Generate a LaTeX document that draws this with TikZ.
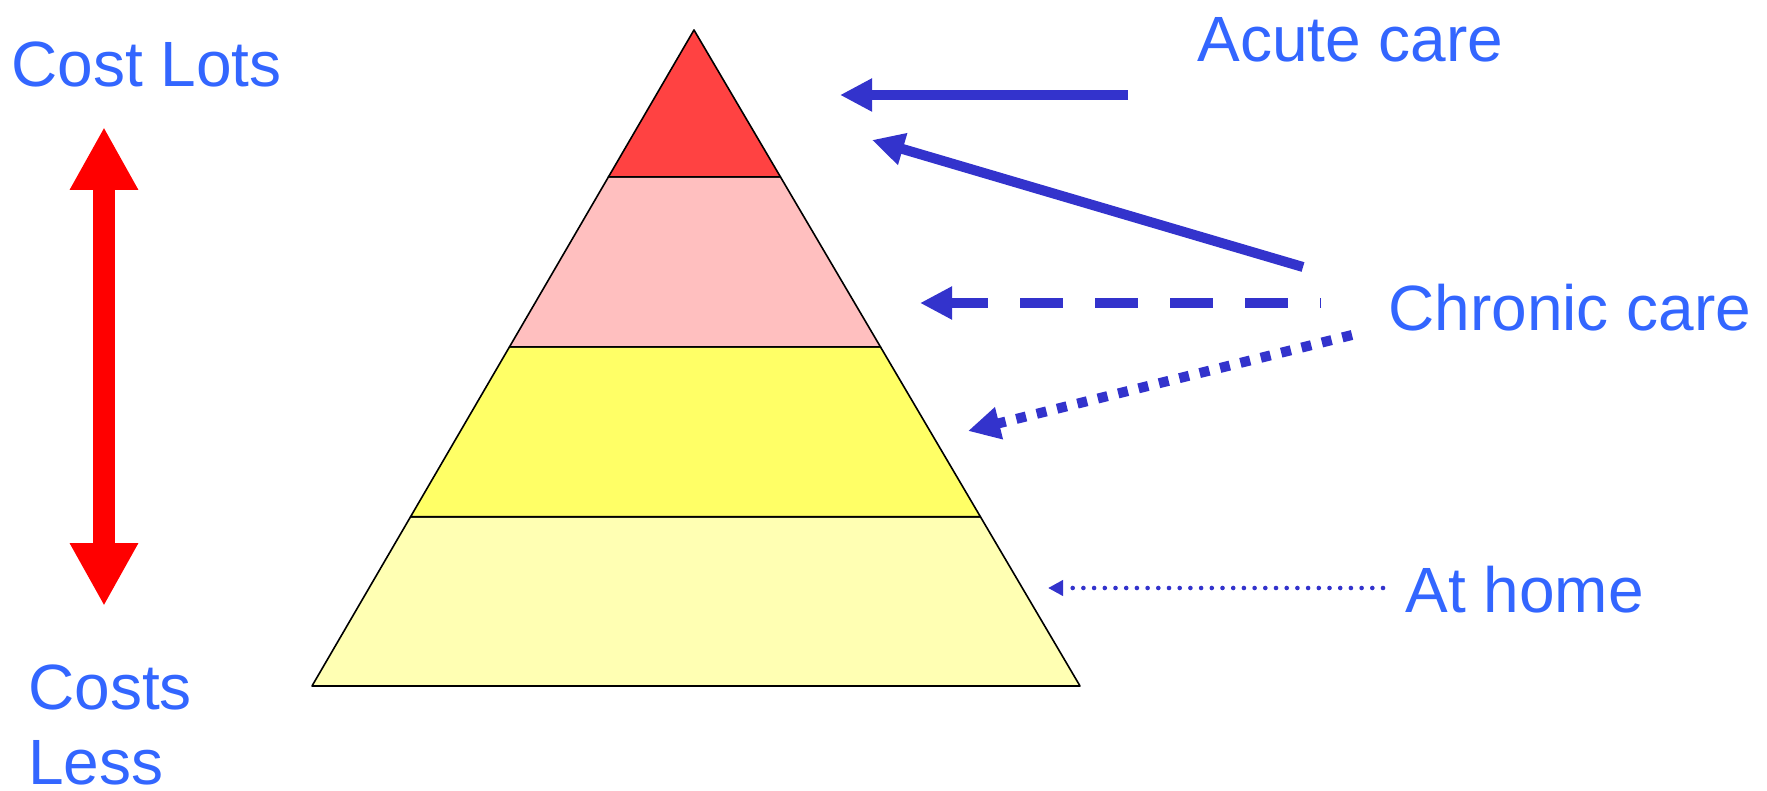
\documentclass[tikz,border=0pt]{standalone}
\usepackage{fontspec}
\setmainfont{Liberation Sans}
\usetikzlibrary{arrows.meta,calc}
\definecolor{careblue}{HTML}{3333CC}
\definecolor{labelblue}{HTML}{3366FF}
\definecolor{topred}{HTML}{FF4242}
\definecolor{softpink}{HTML}{FFBFBF}
\definecolor{midyellow}{HTML}{FFFF66}
\definecolor{lowpale}{HTML}{FFFFB3}
\begin{document}
\begin{tikzpicture}[x=0.5pt, y=-0.5pt, line join=round,
		lbl/.style={font=\fontsize{32}{38.5}\selectfont, text=labelblue, inner sep=0pt, anchor=base west},
		layer/.style={draw=black, line width=0.8pt},
		bigtip/.style={-{Triangle[length=16pt,width=15.5pt]}},
		careline/.style={careblue, line width=5pt, bigtip}]
		\useasboundingbox (0,0) rectangle (1767,791);
		% pyramid
		\coordinate (apex) at (694,30);
		\coordinate (bl) at (312,686);
		\coordinate (br) at (1080,686);
		\foreach \t [count=\i] in {0.224,0.483,0.742} {
			\coordinate (l\i) at ($(apex)!\t!(bl)$);
			\coordinate (r\i) at ($(apex)!\t!(br)$);
		}
		\filldraw[layer, fill=lowpale] (l3) -- (bl) -- (br) -- (r3) -- cycle;
		\filldraw[layer, fill=midyellow] (l2) -- (l3) -- (r3) -- (r2) -- cycle;
		\filldraw[layer, fill=softpink] (l1) -- (l2) -- (r2) -- (r1) -- cycle;
		\filldraw[layer, fill=topred] (apex) -- (l1) -- (r1) -- cycle;
		% labels
		\node[lbl] (costlots) at (11,87) {Cost Lots};
		\node[lbl] (costs) at (28,709) {Costs};
		\node[lbl, text depth=0pt] (less) at (28,784) {Less};
		\node[lbl] (acute) at (1197,62) {Acute care};
		\node[lbl] (chronic) at (1388,330) {Chronic care};
		\node[lbl] (athome) at (1405,612) {At home};
		% cost arrow
		\coordinate (up) at (104,127);
		\coordinate (down) at (104,606);
		\draw[red, line width=11pt, {Triangle[length=31.5pt,width=32pt]}-{Triangle[length=31.5pt,width=32pt]}] (up) -- (down);
		% care arrows
		\coordinate (a1) at (1128,95);   \coordinate (a2) at (840,95);
		\coordinate (b1) at (1303,267);  \coordinate (b2) at (872,140);
		\coordinate (c1) at (1321,303);  \coordinate (c2) at (920,303);
		\coordinate (d1) at (1352,335);  \coordinate (d2) at (968,431);
		\coordinate (e1) at (1383,588);  \coordinate (e2) at (1048,588);
		\draw[careline] (a1) -- (a2);
		\draw[careline] (b1) -- (b2);
		\draw[careline, dash pattern=on 21.25pt off 16.25pt, dash phase=20.75pt] (c1) -- (c2);
		\draw[careline, dash pattern=on 5pt off 5.5pt] (d1) -- (d2);
		\draw[careblue, line width=2.3pt, line cap=round, dash pattern=on 0pt off 5.35pt,
			-{Triangle[length=7.5pt,width=7.5pt]}] (e1) -- (e2);
	\end{tikzpicture}
\end{document}
